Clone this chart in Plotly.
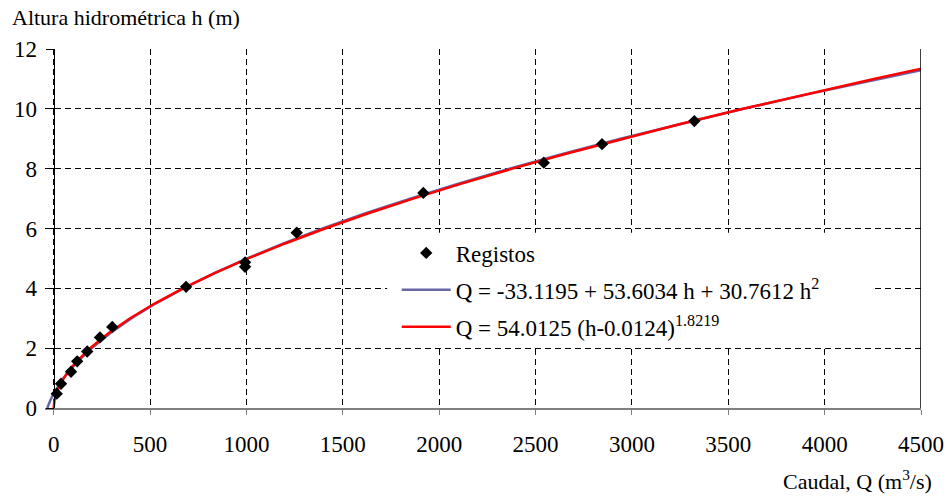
import plotly.graph_objects as go

# Measured stage-discharge records
Q_REG = [16, 38, 90, 122, 174, 240, 304, 687, 993, 993, 1261, 1918, 2543, 2845, 3324]
H_REG = [0.48, 0.81, 1.21, 1.56, 1.89, 2.36, 2.71, 4.05, 4.87, 4.72, 5.86, 7.19, 8.2, 8.82, 9.59]

# Stage values at which both fitted rating curves are evaluated
H_FIT = [0.0, 0.1, 0.25, 0.5, 0.75, 1.0, 1.25, 1.5, 2.0, 2.5, 3.0, 3.5, 4.0, 4.5,
         5.0, 5.5, 6.0, 6.5, 7.0, 7.5, 8.0, 8.5, 9.0, 9.5, 10.0, 10.5, 11.0, 11.5]

# Coefficients of the two fitted rating curves
POLY = (-33.1195, 53.6034, 30.7612)
POW_A, POW_H0, POW_B = 54.0125, 0.0124, 1.8219

q_poly = [POLY[0] + POLY[1] * h + POLY[2] * h * h for h in H_FIT]
q_pow = [POW_A * max(h - POW_H0, 0.0) ** POW_B for h in H_FIT]

FONT = "Liberation Serif"
X_MIN, X_MAX = -45, 4500

fig = go.Figure()
fig.add_trace(go.Scatter(
    x=q_poly, y=H_FIT, mode="lines", legendgroup="g2", legendrank=2,
    name="Q = -33.1195 + 53.6034 h + 30.7612 h<sup>2</sup>",
    line=dict(color="#6767a6", width=2.5),
))
fig.add_trace(go.Scatter(
    x=q_pow, y=H_FIT, mode="lines", legendgroup="g3", legendrank=3,
    name="Q = 54.0125 (h-0.0124)<sup>1.8219</sup>",
    line=dict(color="#ff0000", width=2.5),
))
fig.add_trace(go.Scatter(
    x=Q_REG, y=H_REG, mode="markers", legendgroup="g1", legendrank=1,
    name="Registos", cliponaxis=False,
    marker=dict(symbol="diamond", size=9.5, color="black"),
))

grid = dict(showgrid=True, gridcolor="black", gridwidth=1, griddash="6px,4px")

fig.update_layout(
    template="none",
    width=947, height=496,
    margin=dict(l=45, r=26, t=49, b=87.5, autoexpand=False),
    paper_bgcolor="white", plot_bgcolor="white",
    font_family=FONT, font_size=22, font_color="black",
    showlegend=True,
    legend=dict(
        x=0.4015, y=0.4917, xanchor="left", yanchor="top",
        bgcolor="rgba(0,0,0,0)", borderwidth=0, tracegroupgap=4,
        itemwidth=49, font=dict(family=FONT, size=23, color="black"),
    ),
    xaxis=dict(
        range=[X_MIN, X_MAX], tick0=0, dtick=500, zeroline=False,
        showline=True, linecolor="#808080", linewidth=2,
        ticks="outside", ticklen=5, tickcolor="#808080",
        ticklabelstandoff=9, tickfont=dict(family=FONT, size=23),
        **grid,
    ),
    yaxis=dict(
        range=[0, 12], dtick=2, zeroline=False,
        anchor="free", position=-X_MIN / (X_MAX - X_MIN),
        showline=True, linecolor="black", linewidth=1,
        ticks="outside", ticklen=8, tickcolor="black",
        ticklabelstandoff=4, tickfont=dict(family=FONT, size=23),
        **grid,
    ),
    shapes=[
        # white panel behind the legend, above the grid
        dict(type="rect", xref="x", yref="y", x0=1730, x1=4260, y0=2.06, y1=5.86,
             fillcolor="white", line=dict(width=0), layer="between"),
        dict(type="line", xref="x", yref="y", x0=X_MAX, x1=X_MAX, y0=0, y1=12,
             line=dict(color="black", width=1.5)),
    ],
    annotations=[
        dict(text="Altura hidrométrica h (m)", xref="paper", yref="paper",
             x=-0.04, y=1.0, xanchor="left", yanchor="bottom", yshift=17,
             showarrow=False, font=dict(family=FONT, size=22)),
        dict(text="Caudal, Q (m<sup>3</sup>/s)", xref="paper", yref="paper",
             x=1.0, y=0.0, xanchor="right", yanchor="top", xshift=13, yshift=-56,
             showarrow=False, font=dict(family=FONT, size=22)),
    ],
)

fig.write_html("out.html")
